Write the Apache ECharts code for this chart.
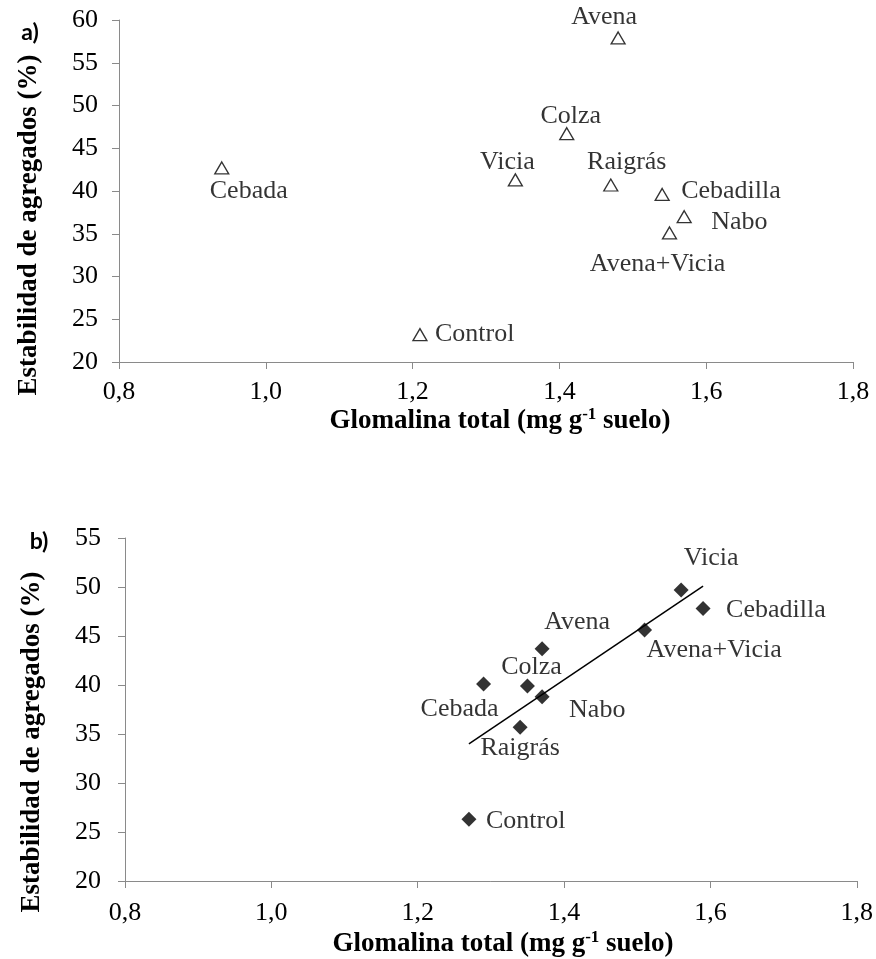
<!DOCTYPE html>
<html>
<head>
<meta charset="utf-8">
<script src="https://cdn.jsdelivr.net/npm/echarts@6/dist/echarts.min.js"></script>
<style>
  html, body { margin: 0; padding: 0; background: #ffffff; }
  #chart { width: 876px; height: 959px; }
</style>
</head>
<body>
<div id="chart"></div>
<script>
// Panel a) – cover crops: total glomalin vs. aggregate stability
const cultivosA = ['Avena', 'Colza', 'Vicia', 'Raigrás', 'Cebadilla', 'Nabo', 'Avena+Vicia', 'Cebada', 'Control'];
const glomalinaA = [1.48, 1.41, 1.34, 1.47, 1.54, 1.57, 1.55, 0.94, 1.21];
const estabilidadA = [57.9, 46.7, 41.3, 40.7, 39.6, 37.0, 35.1, 42.7, 23.2];

// Panel b)
const cultivosB = ['Vicia', 'Cebadilla', 'Avena+Vicia', 'Avena', 'Colza', 'Cebada', 'Nabo', 'Raigrás', 'Control'];
const glomalinaB = [1.56, 1.59, 1.51, 1.37, 1.35, 1.29, 1.37, 1.34, 1.27];
const estabilidadB = [49.7, 47.8, 45.6, 43.7, 39.9, 40.1, 38.8, 35.7, 26.3];

// Fitted trend line for panel b) (end points)
const tendenciaX = [1.27, 1.59];
const tendenciaY = [34.0, 50.1];

// Axis ticks
const xTicks = [0.8, 1.0, 1.2, 1.4, 1.6, 1.8];
const yTicksA = [20, 25, 30, 35, 40, 45, 50, 55, 60];
const yTicksB = [20, 25, 30, 35, 40, 45, 50, 55];

const xTitle = 'Glomalina total (mg g';
const xTitleSup = '-1';
const xTitleEnd = ' suelo)';
const yTitle = 'Estabilidad de agregados (%)';

// Label placement around each marker: [align, dx, dy]
const etiquetasA = {
  'Avena': ['center', -14, -21],
  'Colza': ['center', 4, -18],
  'Vicia': ['center', -8, -18],
  'Raigrás': ['center', 16, -23],
  'Cebadilla': ['left', 19, -3],
  'Nabo': ['left', 27, 6],
  'Avena+Vicia': ['center', -12, 31],
  'Cebada': ['center', 27, 23],
  'Control': ['left', 15, 0]
};
const etiquetasB = {
  'Vicia': ['center', 30, -32],
  'Cebadilla': ['left', 23, 2],
  'Avena': ['center', 35, -27],
  'Avena+Vicia': ['left', 2, 20],
  'Colza': ['center', 4, -19],
  'Cebada': ['right', 15, 25],
  'Nabo': ['left', 27, 13],
  'Raigrás': ['center', 0, 21],
  'Control': ['left', 17, 2]
};

const SERIF = '"Liberation Serif", "Times New Roman", serif';
const AXIS_GREY = '#8a8a8a';
const TEXT_SIZE = 26;
const TITLE_SIZE = 27;

function puntos(nombres, xs, ys, layout) {
  return nombres.map((n, i) => {
    const l = layout[n];
    return {
      name: n,
      value: [xs[i], ys[i]],
      label: { align: l[0], offset: [l[1], l[2]] }
    };
  });
}

function fmtX(v) { return v.toFixed(1).replace('.', ','); }

function xAxisCfg(grid, margin) {
  return {
    type: 'value', gridIndex: grid,
    min: xTicks[0], max: xTicks[xTicks.length - 1], interval: 0.2,
    axisLine: { show: true, lineStyle: { color: AXIS_GREY, width: 1 } },
    axisTick: { show: true, inside: false, length: 7, lineStyle: { color: AXIS_GREY } },
    splitLine: { show: false },
    axisLabel: { formatter: fmtX, fontFamily: SERIF, fontSize: TEXT_SIZE, color: '#000', margin: margin }
  };
}
function yAxisCfg(grid, ticks, margin) {
  return {
    type: 'value', gridIndex: grid,
    min: ticks[0], max: ticks[ticks.length - 1], interval: 5,
    axisLine: { show: true, lineStyle: { color: AXIS_GREY, width: 1 } },
    axisTick: { show: true, inside: false, length: 7, lineStyle: { color: AXIS_GREY } },
    splitLine: { show: false },
    axisLabel: { fontFamily: SERIF, fontSize: TEXT_SIZE, color: '#000', margin: margin }
  };
}

const labelBase = {
  show: true,
  position: 'inside',
  formatter: p => p.name,
  fontFamily: SERIF,
  fontSize: TEXT_SIZE,
  color: '#000',
  verticalAlign: 'middle'
};

function yTitleText(cx, cy) {
  return {
    type: 'text', x: cx, y: cy, rotation: Math.PI / 2,
    style: {
      text: yTitle, fill: '#000',
      font: 'bold ' + TITLE_SIZE + 'px ' + SERIF,
      align: 'center', verticalAlign: 'middle'
    }
  };
}
function xTitleText(cx, cy) {
  return {
    type: 'text', x: cx, y: cy,
    style: {
      text: '{b|' + xTitle + '}{s|' + xTitleSup + '}{b|' + xTitleEnd + '}',
      align: 'center', verticalAlign: 'middle',
      rich: {
        b: { fontFamily: SERIF, fontWeight: 'bold', fontSize: TITLE_SIZE, fill: '#000', lineHeight: 29 },
        s: { fontFamily: SERIF, fontWeight: 'bold', fontSize: 17, fill: '#000', verticalAlign: 'top', lineHeight: 17 }
      }
    }
  };
}
function panelTag(txt, cx, cy) {
  return {
    type: 'text', x: cx, y: cy,
    style: {
      text: txt, fill: '#000',
      font: 'bold 23px Lato, "Liberation Sans", sans-serif',
      align: 'center', verticalAlign: 'middle'
    }
  };
}

const chart = echarts.init(document.getElementById('chart'), null, { renderer: 'canvas' });
chart.setOption({
  animation: false,
  backgroundColor: '#ffffff',
  grid: [
    { left: 119, right: 23, top: 20, height: 342 },
    { left: 125, right: 18, top: 538, height: 343 }
  ],
  xAxis: [xAxisCfg(0, 17), xAxisCfg(1, 19)],
  yAxis: [yAxisCfg(0, yTicksA, 21), yAxisCfg(1, yTicksB, 24)],
  series: [
    {
      type: 'scatter', xAxisIndex: 0, yAxisIndex: 0,
      symbol: 'triangle', symbolSize: [14, 12],
      itemStyle: { color: '#ffffff', borderColor: '#000000', borderWidth: 1.3 },
      label: labelBase,
      data: puntos(cultivosA, glomalinaA, estabilidadA, etiquetasA),
      z: 3
    },
    {
      type: 'line', xAxisIndex: 1, yAxisIndex: 1,
      data: tendenciaX.map((x, i) => [x, tendenciaY[i]]),
      symbol: 'none', silent: true,
      lineStyle: { color: '#000000', width: 1.5 },
      z: 2
    },
    {
      type: 'scatter', xAxisIndex: 1, yAxisIndex: 1,
      symbol: 'diamond', symbolSize: 15,
      itemStyle: { color: '#000000' },
      label: labelBase,
      data: puntos(cultivosB, glomalinaB, estabilidadB, etiquetasB),
      z: 3
    }
  ],
  graphic: [
    panelTag('a)', 30, 33),
    panelTag('b)', 39, 542),
    yTitleText(29, 225),
    yTitleText(32, 742),
    xTitleText(500, 421),
    xTitleText(503, 944)
  ]
});
</script>
</body>
</html>
